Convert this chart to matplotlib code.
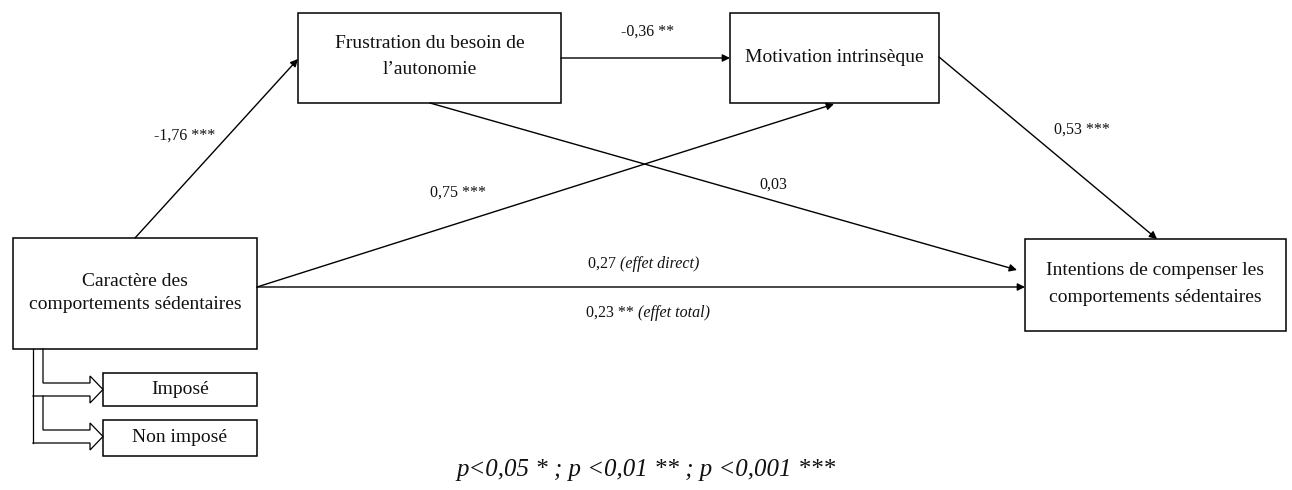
import matplotlib.pyplot as plt
from matplotlib.patches import Rectangle

plt.rcParams['font.family'] = ['Liberation Serif', 'DejaVu Serif']

# node labels (one entry per line)
nodes = {
    "x": ["Caractère des", "comportements sédentaires"],
    "m1": ["Frustration du besoin de", "l’autonomie"],
    "m2": ["Motivation intrinsèque"],
    "y": ["Intentions de compenser les", "comportements sédentaires"],
    "c1": ["Imposé"],
    "c2": ["Non imposé"],
}

# path coefficients
coef_x_m1 = "-1,76 ***"
coef_m1_m2 = "-0,36 **"
coef_m2_y = "0,53 ***"
coef_m1_y = "0,03"
coef_x_m2 = "0,75 ***"
coef_direct = "0,27"
coef_total = "0,23 **"
note = "p<0,05 * ; p <0,01 ** ; p <0,001 ***"

# box geometry in pixel units (left, top, right, bottom)
boxes = {
    "x": (13, 238, 257, 349),
    "m1": (298, 13, 561, 103),
    "m2": (730, 13, 939, 103),
    "y": (1025, 239, 1286, 331),
    "c1": (103, 373, 257, 406),
    "c2": (103, 420, 257, 456),
}
# y of each text line inside the boxes
line_y = {
    "x": [281, 304],
    "m1": [43, 69],
    "m2": [58],
    "y": [270, 297],
    "c1": [389],
    "c2": [437],
}

fig = plt.figure(figsize=(12.92, 4.90), dpi=100)
ax = fig.add_axes([0, 0, 1, 1])
ax.set_xlim(0, 1292)
ax.set_ylim(490, 0)
ax.axis("off")

for key, (l, t, r, b) in boxes.items():
    ax.add_patch(Rectangle((l, t), r - l, b - t, fill=False, ec="black", lw=1.1))
    for txt, yy in zip(nodes[key], line_y[key]):
        ax.text((l + r) / 2, yy, txt, ha="center", va="center", fontsize=14, color="#111111")


def arrow(p0, p1):
    ax.annotate("", xy=p1, xytext=p0,
                arrowprops=dict(arrowstyle="-|>", color="black", lw=1.0,
                                mutation_scale=11, shrinkA=0, shrinkB=0))


arrow((135, 238), (298, 59))
arrow((561, 58), (730, 58))
arrow((939, 57), (1157, 239))
arrow((430, 103), (1017, 270))
arrow((257, 287), (834, 104))
arrow((257, 287), (1025, 287))

lab = dict(fontsize=11.5, ha="center", va="center", color="#111111")
ax.text(185, 136, coef_x_m1, **lab)
ax.text(648, 32, coef_m1_m2, **lab)
ax.text(1082, 130, coef_m2_y, **lab)
ax.text(773, 185, coef_m1_y, **lab)
ax.text(458, 193, coef_x_m2, **lab)
ax.text(620, 264, coef_direct + " ", ha="right", va="center", fontsize=11.5, color="#111111")
ax.text(620, 264, "(effet direct)", ha="left", va="center", fontsize=11.5, style="italic", color="#111111")
ax.text(638, 313, coef_total + " ", ha="right", va="center", fontsize=11.5, color="#111111")
ax.text(638, 313, "(effet total)", ha="left", va="center", fontsize=11.5, style="italic", color="#111111")

# hollow block arrows toward the two categories
for top, bot, start in ((383, 396, 349), (430, 443, 396)):
    mid = (top + bot) / 2
    xs = [43, 43, 90, 90, 103, 90, 90, 33]
    ys = [start, top, top, top - 7, mid, bot + 7, bot, bot]
    ax.plot(xs, ys, color="black", lw=0.9, solid_joinstyle="miter")
ax.plot([33, 33], [349, 443], color="black", lw=0.9)

ax.text(646, 470, note, ha="center", va="center", fontsize=17.9, style="italic", color="#111111")

fig.savefig("out.png", dpi=100)
